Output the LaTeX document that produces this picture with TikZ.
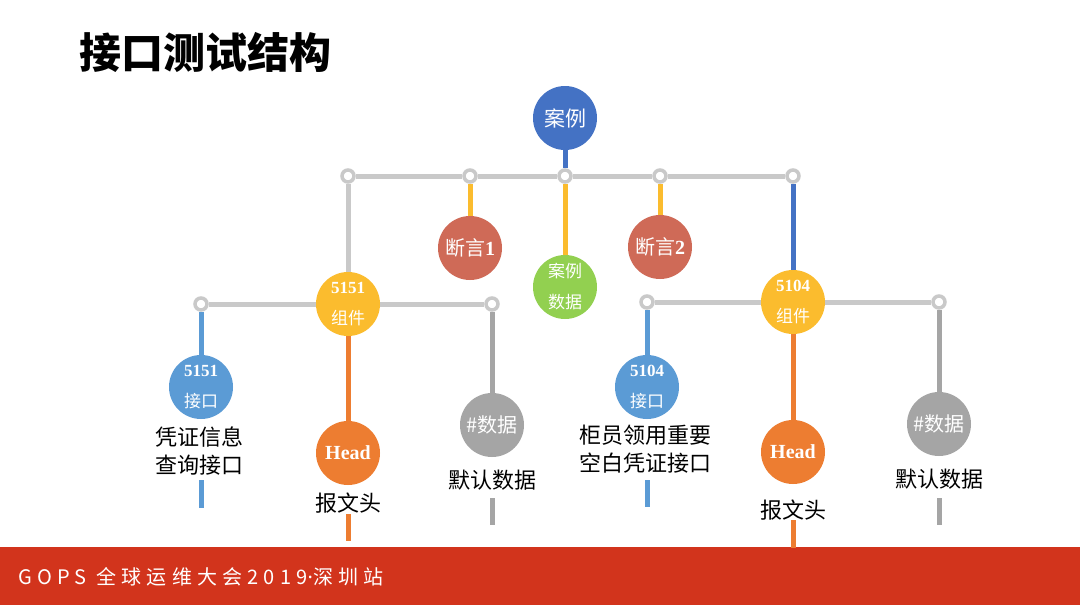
\documentclass[tikz,border=0pt]{standalone}
\usepackage{fontspec}
\setmainfont{Liberation Serif}
\newfontfamily\cjk{Noto Sans CJK SC}
\newfontfamily\footfont[LetterSpace=26]{Noto Sans CJK SC}
\newfontfamily\dotfont[LetterSpace=26]{Noto Sans}
\definecolor{topblue}{HTML}{4472C4}
\definecolor{lblue}{HTML}{5B9BD5}
\definecolor{orng}{HTML}{ED7D31}
\definecolor{yell}{HTML}{FBBC2E}
\definecolor{rred}{HTML}{CF6A57}
\definecolor{grn}{HTML}{92D050}
\definecolor{dgray}{HTML}{A5A5A5}
\definecolor{lgray}{HTML}{C9C9C9}
\definecolor{footred}{HTML}{D2341C}
\begin{document}
\begin{tikzpicture}[x=1pt,y=-1pt,
  ball/.style={circle, fill=#1, minimum size=64pt, inner sep=0pt},
  ctext/.style={text=white, align=center, inner sep=0pt},
  ring/.style={circle, draw=lgray, line width=3.5pt, fill=white, minimum size=12pt, inner sep=0pt},
  bar/.style={line width=5pt, draw=#1},
  lbl/.style={font=\cjk\fontsize{22}{28}\selectfont, align=center, text=black, inner sep=0pt},
  big/.style={font=\fontsize{20}{24}\selectfont},
  small/.style={font=\fontsize{17}{31}\selectfont}
]
\useasboundingbox (0,0) rectangle (1080,605);
\fill[white] (0,0) rectangle (1080,605);

% title
\node[anchor=west, inner sep=0pt, font=\cjk\bfseries\fontsize{42}{46}\selectfont] (title) at (79,52) {接口测试结构};

% footer
\fill[footred] (0,547) rectangle (1080,605);
\node[anchor=west, inner sep=0pt, text=white, font=\footfont\fontsize{20}{24}\selectfont] (foot) at (18,577) {GOPS 全球运维大会2019{\dotfont ·}深圳站};

% top level
\node[ball=topblue] (c0) at (565,118) {};
\node[ctext, font=\cjk\fontsize{21}{24}\selectfont] (c0t) at (c0) {案例};

\node[ring] (ra) at (348,176) {};
\node[ring] (rb) at (470,176) {};
\node[ring] (rc) at (565,176) {};
\node[ring] (rd) at (660,176) {};
\node[ring] (re) at (793,176) {};

\node[ball=rred] (a1) at (470,248) {};
\node[ctext, big] (a1t) at (a1) {{\cjk 断言}\bfseries 1};
\node[ball=grn] (g) at (565,287) {};
\node[ctext, small] (gt) at (g) {\cjk 案例\\\cjk 数据};
\node[ball=rred] (a2) at (660,247) {};
\node[ctext, big] (a2t) at (a2) {{\cjk 断言}\bfseries 2};

\node[ball=yell] (k1) at (348,304) {};
\node[ctext, small] (k1t) at (k1) {\bfseries 5151\\\cjk 组件};
\node[ball=yell] (k2) at (793,302) {};
\node[ctext, small] (k2t) at (k2) {\bfseries 5104\\\cjk 组件};

% second level rings
\node[ring] (l1) at (201,304) {};
\node[ring] (l2) at (492,304) {};
\node[ring] (r1) at (647,302) {};
\node[ring] (r2) at (939,302) {};

% left subtree
\node[ball=lblue] (i1) at (201,387) {};
\node[ctext, small] (i1t) at (i1) {\bfseries 5151\\\cjk 接口};
\node[lbl] (i1l) at (199,451) {凭证信息\\查询接口};
\coordinate (i1a) at (201,480);
\coordinate (i1b) at (201,508);

\node[ball=orng] (h1) at (348,453) {};
\node[ctext, big] (h1t) at (h1) {\bfseries Head};
\node[lbl] (h1l) at (348,503) {报文头};
\coordinate (h1a) at (348,514);
\coordinate (h1b) at (348,541);

\node[ball=dgray] (d1) at (492,425) {};
\node[ctext, big] (d1t) at (d1) {\cjk \#数据};
\node[lbl] (d1l) at (492,480) {默认数据};
\coordinate (d1a) at (492,498);
\coordinate (d1b) at (492,525);

% right subtree
\node[ball=lblue] (i2) at (647,387) {};
\node[ctext, small] (i2t) at (i2) {\bfseries 5104\\\cjk 接口};
\node[lbl] (i2l) at (645,449) {柜员领用重要\\空白凭证接口};
\coordinate (i2a) at (647,480);
\coordinate (i2b) at (647,507);

\node[ball=orng] (h2) at (793,452) {};
\node[ctext, big] (h2t) at (h2) {\bfseries Head};
\node[lbl] (h2l) at (793,510) {报文头};
\coordinate (h2a) at (793,520);
\coordinate (h2b) at (793,548);

\node[ball=dgray] (d2) at (939,424) {};
\node[ctext, big] (d2t) at (d2) {\cjk \#数据};
\node[lbl] (d2l) at (939,479) {默认数据};
\coordinate (d2a) at (939,498);
\coordinate (d2b) at (939,525);

% connectors
\draw[bar=topblue] (c0) -- (rc);
\draw[bar=lgray] (ra) -- (rb);
\draw[bar=lgray] (rb) -- (rc);
\draw[bar=lgray] (rc) -- (rd);
\draw[bar=lgray] (rd) -- (re);
\draw[bar=lgray] (ra) -- (k1);
\draw[bar=yell] (rb) -- (a1);
\draw[bar=yell] (rc) -- (g);
\draw[bar=yell] (rd) -- (a2);
\draw[bar=topblue] (re) -- (k2);

\draw[bar=lgray] (l1) -- (k1);
\draw[bar=lgray] (k1) -- (l2);
\draw[bar=lgray] (r1) -- (k2);
\draw[bar=lgray] (k2) -- (r2);

\draw[bar=lblue] (l1) -- (i1);
\draw[bar=orng] (k1) -- (h1);
\draw[bar=dgray] (l2) -- (d1);
\draw[bar=lblue] (r1) -- (i2);
\draw[bar=orng] (k2) -- (h2);
\draw[bar=dgray] (r2) -- (d2);

\draw[bar=lblue] (i1a) -- (i1b);
\draw[bar=orng] (h1a) -- (h1b);
\draw[bar=dgray] (d1a) -- (d1b);
\draw[bar=lblue] (i2a) -- (i2b);
\draw[bar=orng] (h2a) -- (h2b);
\draw[bar=dgray] (d2a) -- (d2b);
\end{tikzpicture}
\end{document}
